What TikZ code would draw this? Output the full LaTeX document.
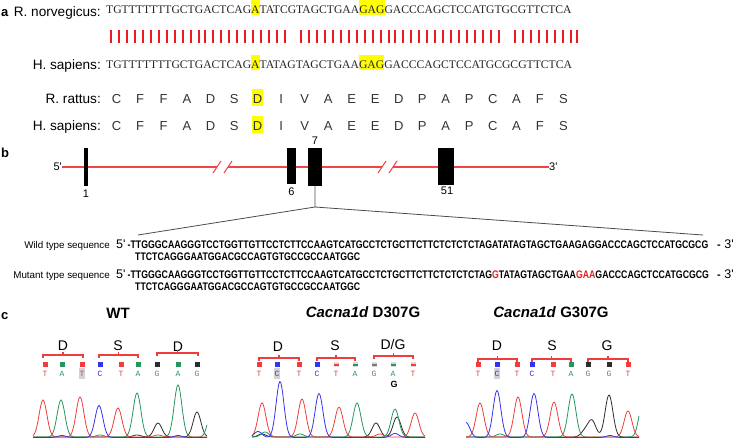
\documentclass[tikz,border=0pt]{standalone}
\usepackage{fontspec}
\setmainfont{Liberation Sans}
\newfontfamily\seqserif{Liberation Serif}
\newfontfamily\basemono{Liberation Mono}
\usepackage{graphicx}
\usetikzlibrary{calc}
\definecolor{hly}{RGB}{255,255,0}
\definecolor{barred}{RGB}{236,28,36}
\definecolor{genered}{RGB}{238,70,70}
\definecolor{mutred}{RGB}{232,30,30}
\definecolor{trred}{RGB}{240,60,60}
\definecolor{trgreen}{RGB}{38,150,92}
\definecolor{trblue}{RGB}{52,52,238}
\definecolor{trblack}{RGB}{45,45,45}
\definecolor{basegrey}{RGB}{120,120,120}
\definecolor{lowq}{RGB}{218,218,218}
\newcommand\hlbox[1]{{\setlength{\fboxsep}{0pt}\colorbox{hly}{\rule[-2pt]{0pt}{15pt}#1}}}
\newcommand\codonbrk[3]{%
  \draw[brk] (#1,#3+3) -- (#1,#3) -- (#2,#3) -- (#2,#3+3);
  \draw[brk] ({(#1+#2)/2},#3) -- ({(#1+#2)/2},#3-3);}
\begin{document}
\begin{tikzpicture}[x=1pt,y=-1pt,
  declare function={gs(\ga,\gb,\gh)=\gh*exp(-min(((\ga-\gb)/5.5)^2,30));},
  panel/.style={inner sep=0pt,font=\fontsize{13}{15}\selectfont\bfseries},
  lab/.style={inner sep=0pt,font=\fontsize{13.6}{16}\selectfont},
  seq/.style={inner sep=0pt,text=black!85,font=\seqserif\fontsize{11.65}{15}\selectfont},
  aa/.style={inner sep=0pt,text=black!80,font=\fontsize{13}{15}\selectfont},
  bar/.style={barred,line width=2pt},
  gene/.style={genered,line width=1.2pt},
  exon/.style={fill=black,draw=none,inner sep=0pt},
  num/.style={inner sep=0pt,font=\fontsize{11}{13}\selectfont},
  zoomline/.style={draw=black!70,line width=0.8pt},
  seqlab/.style={inner sep=0pt,font=\fontsize{9.8}{12}\selectfont},
  prime/.style={inner sep=0pt,font=\fontsize{12.5}{14}\selectfont},
  bseq/.style={inner sep=0pt,font=\fontsize{11}{13}\selectfont\bfseries},
  title/.style={inner sep=0pt,font=\fontsize{15}{18}\selectfont\bfseries},
  cod/.style={inner sep=0pt,font=\fontsize{14}{16}\selectfont},
  brk/.style={trred,line width=1.1pt},
  basel/.style={inner sep=0.5pt,font=\basemono\fontsize{8}{9}\selectfont},
  tr/.style={line width=0.8pt},
]
\useasboundingbox (0,0) rectangle (741,442);

% ---------------- panel a
\node[panel,anchor=base west] (pa) at (1,16) {a};
\node[lab,anchor=base east] (lrn) at (101,16) {R. norvegicus:};
\node[seq,anchor=base west] (srn) at (106,13) {TGTTTTTTTGCTGACTCAG\hlbox{A}TATCGTAGCTGAA\hlbox{GAG}GACCCAGCTCCATGTGCGTTCTCA};
\foreach \i in {1,...,60}{%
  \ifnum\i=24 \else\ifnum\i=51 \else
    \pgfmathsetmacro\bx{2*round((110+7.915*(\i-1))/2)+1}
    \draw[bar] (\bx,30) -- (\bx,43);
  \fi\fi}
\node[lab,anchor=base east] (lhs) at (101,69) {H. sapiens:};
\node[seq,anchor=base west] (shs) at (106,68) {TGTTTTTTTGCTGACTCAG\hlbox{A}TATAGTAGCTGAA\hlbox{GAG}GACCCAGCTCCATGCGCGTTCTCA};

\node[lab,anchor=base east] (lrr) at (101,103) {R. rattus:};
\node[lab,anchor=base east] (lhp) at (101,130) {H. sapiens:};
\fill[hly] (251.5,89) rectangle (262.5,106);
\fill[hly] (251.5,116) rectangle (262.5,133);
\foreach \L [count=\i from 0] in {C,F,F,A,D,S,D,I,V,A,E,E,D,P,A,P,C,A,F,S}{%
  \node[aa,anchor=base] (ra\i) at (116.5+23.52*\i,103) {\L};
  \node[aa,anchor=base] (ha\i) at (116.5+23.52*\i,130) {\L};
}

% ---------------- panel b
\node[panel,anchor=base west] (pb) at (1,157) {b};
\node[num,anchor=east] (p5) at (62,167) {5\textquotesingle};
\node[num,anchor=west] (p3) at (549,167) {3\textquotesingle};
\coordinate (b1a) at (217,167);
\coordinate (b1b) at (228,167);
\coordinate (b2a) at (382,167);
\coordinate (b2b) at (393,167);
\draw[gene] (p5.east) -- (b1a);
\draw[gene] (b1b) -- (b2a);
\draw[gene] (b2b) -- (p3.west);
\foreach \c in {b1a,b1b,b2a,b2b}{\draw[gene,line width=1pt] ($(\c)+(-4,6)$) -- ($(\c)+(4,-6)$);}
\node[exon,minimum width=4.5pt,minimum height=38pt] (e1) at (86,167) {};
\node[exon,minimum width=9pt,minimum height=36pt] (e6) at (291.5,166) {};
\node[exon,minimum width=14pt,minimum height=38pt] (e7) at (315,167) {};
\node[exon,minimum width=16pt,minimum height=37pt] (e51) at (446,166.5) {};
\node[num] (n1) at (86,194) {1};
\node[num] (n6) at (291.5,192) {6};
\node[num] (n7) at (315,141) {7};
\node[num] (n51) at (447,191) {51};
\coordinate (fork) at (315,207);
\coordinate (zl) at (138,235);
\coordinate (zr) at (703,235);
\draw[zoomline] (e7.south) -- (fork) -- (zl);
\draw[zoomline] (fork) -- (zr);

\node[seqlab,anchor=base east] (wtl) at (110,248) {Wild type sequence};
\node[prime,anchor=base west] (wt5) at (116,248) {5\textquotesingle};
\node[bseq,anchor=base west] (wts1) at (127.5,248) {\scalebox{0.795}[1]{-TTGGGCAAGGGTCCTGGTTGTTCCTCTTCCAAGTCATGCCTCTGCTTCTTCTCTCTCTAGATATAGTAGCTGAAGAGGACCCAGCTCCATGCGCG}};
\node[bseq,anchor=base west] (wts2) at (135,260) {\scalebox{0.795}[1]{TTCTCAGGGAATGGACGCCAGTGTGCCGCCAATGGC}};
\node[bseq,anchor=base west] (wt3) at (717,248) {-\hspace{3.5pt}{\mdseries\fontsize{12.5}{14}\selectfont 3\textquotesingle}};

\node[seqlab,anchor=base east] (mtl) at (110,278) {Mutant type sequence};
\node[prime,anchor=base west] (mt5) at (116,278) {5\textquotesingle};
\node[bseq,anchor=base west] (mts1) at (127.5,278) {\scalebox{0.795}[1]{-TTGGGCAAGGGTCCTGGTTGTTCCTCTTCCAAGTCATGCCTCTGCTTCTTCTCTCTCTAG\textcolor{mutred}{G}TATAGTAGCTGAA\textcolor{mutred}{GAA}GACCCAGCTCCATGCGCG}};
\node[bseq,anchor=base west] (mts2) at (135,290) {\scalebox{0.795}[1]{TTCTCAGGGAATGGACGCCAGTGTGCCGCCAATGGC}};
\node[bseq,anchor=base west] (mt3) at (717,278) {-\hspace{3.5pt}{\mdseries\fontsize{12.5}{14}\selectfont 3\textquotesingle}};

% ---------------- panel c
\node[panel,anchor=base west] (pc) at (1,319) {c};
\node[title] (t1) at (118,313) {WT};
\node[title] (t2) at (363,312) {\textit{Cacna1d} D307G};
\node[title] (t3) at (551,312) {\textit{Cacna1d} G307G};

% codon labels and brackets
\node[cod] (c1a) at (63,346) {D};
\node[cod] (c1b) at (118,346) {S};
\node[cod] (c1c) at (178,347) {D};
\codonbrk{43}{83}{355}
\codonbrk{99}{138}{355}
\codonbrk{157}{198}{353}
\node[cod] (c2a) at (278,347) {D};
\node[cod] (c2b) at (335,346) {S};
\node[cod] (c2c) at (393,344) {D/G};
\codonbrk{259}{299}{358}
\codonbrk{317}{355}{358}
\codonbrk{374}{413}{356}
\node[cod] (c3a) at (497,346) {D};
\node[cod] (c3b) at (552,346) {S};
\node[cod] (c3c) at (607,346) {G};
\codonbrk{478}{517}{359}
\codonbrk{532}{571}{359}
\codonbrk{588}{628}{359}

% grey highlighted base calls
\foreach \px in {82,277,497}{\fill[gray!35] (\px-3.2,368) rectangle (\px+3.2,378.5);}

% squares and base letters
\foreach \px/\b/\sc/\lc [count=\k] in {45/T/trred/trred,62/A/trgreen/trgreen,82/T/trred/trred,100/C/trblue/trblue,121/T/trred/trred,138/A/trgreen/trgreen,157/G/trblack/basegrey,178/A/trgreen/trgreen,197/G/trblack/basegrey,
  259/T/trred/trred,277/C/trblue/trblue,299/T/trred/trred,317/C/trblue/trblue,
  478/T/trred/trred,497/C/trblue/trblue,517/T/trred/trred,532/C/trblue/trblue,553/T/trred/trred,571/A/trgreen/trgreen,588/G/trblack/basegrey,609/G/trblack/basegrey,628/T/trred/trred}{%
  \fill[\sc] (\px-2.5,361.5) rectangle (\px+2.5,366.5);
  \node[basel,text=\lc] (bl\k) at (\px,373.5) {\b};
}
\foreach \px/\b/\sc/\lc [count=\k] in {336/T/trred/trred,355/A/trgreen/trgreen,374/G/basegrey/basegrey,393/A/trgreen/trgreen,413/T/trred/trred}{%
  \fill[lowq] (\px-2.5,361.5) rectangle (\px+2.5,366.5);
  \fill[\sc] (\px-2.5,364) rectangle (\px+2.5,365.8);
  \node[basel,text=\lc] (lq\k) at (\px,373.5) {\b};
}
\node[inner sep=0pt,font=\fontsize{9}{10}\selectfont\bfseries] (gextra) at (394,384.5) {G};

% traces WT
\draw[trblack,tr] plot[domain=33:207,samples=175] (\x,{437-gs(\x,158,14)-gs(\x,197,25)-gs(\x,137,2)});
\draw[trgreen,tr] plot[domain=33:207,samples=175] (\x,{437-gs(\x,61,37)-gs(\x,137,44)-gs(\x,178,52)-gs(\x,212,28)-gs(\x,100,2)});
\draw[trred,tr] plot[domain=33:207,samples=175] (\x,{437-gs(\x,43,37)-gs(\x,80,40)-gs(\x,118,29)-gs(\x,158,2)});
\draw[trblue,tr] plot[domain=33:207,samples=175] (\x,{437.5-gs(\x,99,32)-gs(\x,62,2)-gs(\x,178,2)});

% traces D307G
\draw[trblack,tr] plot[domain=252:425,samples=175] (\x,{437-gs(\x,376,14)-gs(\x,397,20)-gs(\x,262,3)});
\draw[trgreen,tr] plot[domain=252:425,samples=175] (\x,{437-gs(\x,357,34)-gs(\x,395,28)-gs(\x,265,5)-gs(\x,300,3)});
\draw[trred,tr] plot[domain=252:425,samples=175] (\x,{437-gs(\x,262,34)-gs(\x,302,38)-gs(\x,339,30)-gs(\x,415,24)-gs(\x,380,3)});
\draw[trblue,tr] plot[domain=252:425,samples=175] (\x,{437.5-gs(\x,280,56)-gs(\x,319,44)-gs(\x,258,6)-gs(\x,395,4)});

% traces G307G
\draw[trblack,tr] plot[domain=466:639,samples=175] (\x,{437-gs(\x,585,6)-gs(\x,592,16)-gs(\x,609,42)});
\draw[trgreen,tr] plot[domain=466:639,samples=175] (\x,{437-gs(\x,572,43)-gs(\x,643,36)-gs(\x,500,3)});
\draw[trred,tr] plot[domain=466:639,samples=175] (\x,{437-gs(\x,480,34)-gs(\x,518,40)-gs(\x,554,35)-gs(\x,628,26)});
\draw[trblue,tr] plot[domain=466:639,samples=175] (\x,{437.5-gs(\x,466,15)-gs(\x,497,47)-gs(\x,534,44)-gs(\x,610,2)});
\end{tikzpicture}
\end{document}
